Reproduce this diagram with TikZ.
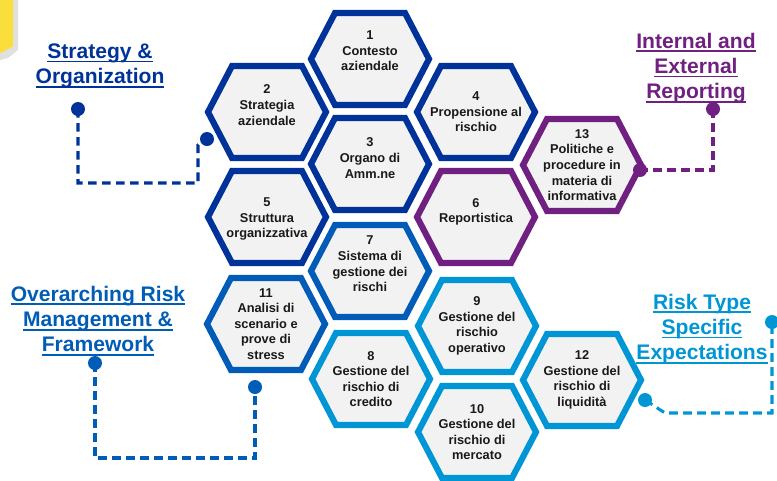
\documentclass[tikz,border=0pt]{standalone}
\usepackage{fontspec}
\setmainfont{Liberation Sans}
\usetikzlibrary{calc}

\definecolor{darkblue}{RGB}{0,51,153}
\definecolor{midblue}{RGB}{0,92,182}
\definecolor{lightblue}{RGB}{0,150,214}
\definecolor{violet}{RGB}{112,32,128}
\definecolor{cellgray}{RGB}{242,242,242}
\definecolor{notey}{RGB}{250,222,60}

% underlined line of a label
\newcommand{\lineul}[1]{\setbox0\hbox{#1}\rlap{\usebox0}\rule[-3pt]{\wd0}{1.4pt}}

% one hexagon: [text shift]{name}{centre}{colour}{text}
\newcommand{\hexcell}[5][0]{%
  \draw[hexline=#4] (#3) ++(-59,0) -- ++(24,-46) -- ++(70,0) -- ++(24,46) -- ++(-24,46) -- ++(-70,0) -- cycle;
  \node[celltext] (#2) at ($(#3)+(0,#1)$) {#5};
}

\begin{document}
\begin{tikzpicture}[x=0.75pt, y=-0.75pt,
  hexline/.style={draw=#1, line width=4.6pt, fill=cellgray, line join=miter},
  celltext/.style={font=\bfseries\fontsize{9.6}{11.7}\selectfont, align=center, text=black!90},
  title/.style={font=\bfseries\fontsize{15.8}{19}\selectfont, align=center, text=#1},
  dot/.style={circle, fill=#1, inner sep=0pt, minimum size=10.5pt},
  link/.style={draw=#1, line width=2.3pt, dash pattern=on 6.5pt off 4pt}]
\useasboundingbox (0,0) rectangle (777,480);

% sticky note in the corner
\fill[black!12] (0,0) -- (18,0) -- (18,50) -- (8,58) -- (0,60) -- cycle;
\fill[notey] (0,0) -- (13,0) -- (13,46) -- (5,51) -- (0,53) -- cycle;

% hexagons
\hexcell[-8]{c1}{370,59}{darkblue}{1\\Contesto\\aziendale}
\hexcell[-7]{c2}{267,112}{darkblue}{2\\Strategia\\aziendale}
\hexcell[-6]{c3}{370,164}{darkblue}{3\\Organo di\\Amm.ne}
\hexcell{c4}{476,112}{darkblue}{4\\Propensione al\\rischio}
\hexcell[2]{c5}{267,217}{darkblue}{5\\Struttura\\organizzativa}
\hexcell[-5]{c6}{476,217}{violet}{6\\Reportistica}
\hexcell{c13}{582,165}{violet}{13\\Politiche e\\procedure in\\materia di\\informativa}
\hexcell[-7]{c7}{370,271}{midblue}{7\\Sistema di\\gestione dei\\rischi}
\hexcell{c11}{266,324}{midblue}{11\\Analisi di\\scenario e\\prove di\\stress}
\hexcell{c9}{477,326}{lightblue}{9\\Gestione del\\rischio\\operativo}
\hexcell{c8}{371,379}{lightblue}{8\\Gestione del\\rischio di\\credito}
\hexcell{c12}{582,380}{lightblue}{12\\Gestione del\\rischio di\\liquidità}
\hexcell{c10}{477,432}{lightblue}{10\\Gestione del\\rischio di\\mercato}

% group labels
\node[title=darkblue] (strat) at (100,66) {\lineul{Strategy \&}\\\lineul{Organization}};
\node[title=violet] (report) at (696,68) {\lineul{Internal and}\\\lineul{External}\\\lineul{Reporting}};
\node[title=midblue] (over) at (98,321) {\lineul{Overarching Risk}\\\lineul{Management \&}\\\lineul{Framework}};
\node[title=lightblue] (risk) at (702,329) {\lineul{Risk Type}\\\lineul{Specific}\\\lineul{Expectations}};

% connectors
\node[dot=darkblue] (sd1) at (78,109) {};
\node[dot=darkblue] (sd2) at (207,139) {};
\coordinate (sk1) at (198,183);
\draw[link=darkblue] (sd1.center) |- (sk1) -- ++(0,-38) -- (sd2.center);

\node[dot=violet] (id1) at (713,109) {};
\node[dot=violet] (id2) at (640,170) {};
\draw[link=violet] (id1.center) |- (id2.center);

\node[dot=midblue] (od1) at (95,363) {};
\node[dot=midblue] (od2) at (255,387) {};
\coordinate (ok1) at (255,458);
\draw[link=midblue] (od1.center) |- (ok1) -- (od2.center);

\node[dot=lightblue] (rd1) at (645,400) {};
\node[dot=lightblue] (rd2) at (772,322) {};
\coordinate (rk1) at (665,413);
\draw[link=lightblue] (rd1.center) -- (rk1) -| (rd2.center);
\end{tikzpicture}
\end{document}
